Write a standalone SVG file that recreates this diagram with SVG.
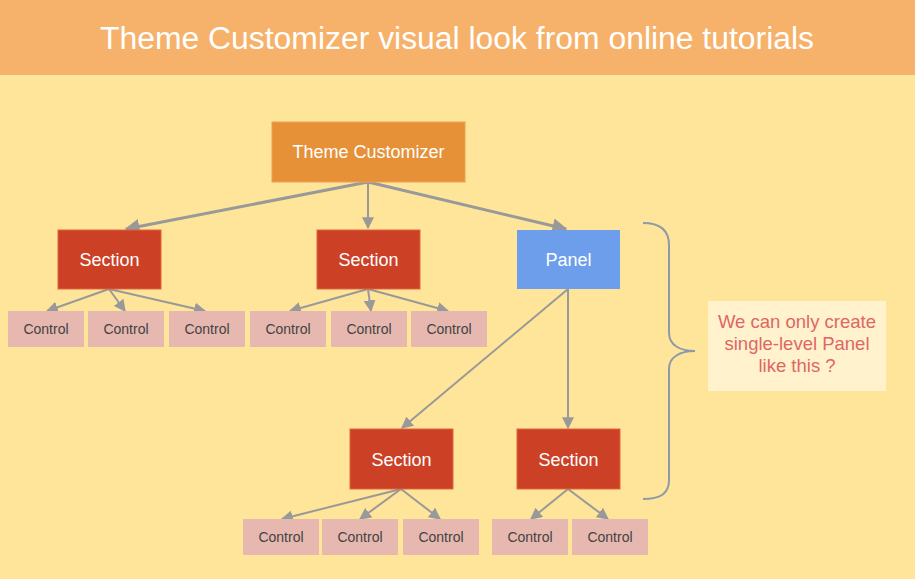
<svg xmlns="http://www.w3.org/2000/svg" width="915" height="579" viewBox="0 0 915 579">
<defs>
<style>
.t{font-family:"Liberation Sans",Arial,sans-serif;text-anchor:middle}
.sec{fill:#cc4125;stroke:#e0663f;stroke-width:1}
.ctl{fill:#e6b8af}
.lw{fill:#ffffff;font-size:18px}
.lc{fill:#434343;font-size:14px}
.ln{fill:#e06666;font-size:18.5px}
.c1{stroke:#999999;stroke-width:3;fill:none}
.c2{stroke:#999999;stroke-width:2;fill:none}
</style>
<marker id="ah" viewBox="0 0 10 10" refX="9" refY="5" markerWidth="5" markerHeight="5" orient="auto" markerUnits="strokeWidth"><path d="M0,0 L10,5 L0,10 z" fill="#999999"/></marker>
<marker id="ah2" viewBox="0 0 10 10" refX="9" refY="5" markerWidth="6" markerHeight="6" orient="auto" markerUnits="strokeWidth"><path d="M0,0 L10,5 L0,10 z" fill="#999999"/></marker>
</defs>
<rect x="0" y="0" width="915" height="579" fill="#ffe599"/>
<rect x="0" y="0" width="915" height="75" fill="#f6b26b"/>
<text class="t" x="457" y="49" font-size="31" fill="#ffffff" textLength="714" lengthAdjust="spacingAndGlyphs">Theme Customizer visual look from online tutorials</text>

<g id="connectors">
<line class="c1" x1="368" y1="182" x2="126" y2="229" marker-end="url(#ah)"/>
<line class="c2" x1="368" y1="182" x2="368" y2="228" marker-end="url(#ah2)"/>
<line class="c1" x1="368" y1="182" x2="566" y2="229" marker-end="url(#ah)"/>
<line class="c2" x1="109" y1="289" x2="47" y2="311" marker-end="url(#ah2)"/>
<line class="c2" x1="109" y1="289" x2="125" y2="311" marker-end="url(#ah2)"/>
<line class="c2" x1="109" y1="289" x2="205" y2="311" marker-end="url(#ah2)"/>
<line class="c2" x1="368" y1="289" x2="290" y2="311" marker-end="url(#ah2)"/>
<line class="c2" x1="368" y1="289" x2="371" y2="311" marker-end="url(#ah2)"/>
<line class="c2" x1="368" y1="289" x2="448" y2="311" marker-end="url(#ah2)"/>
<line class="c2" x1="568" y1="289" x2="402" y2="428" marker-end="url(#ah2)"/>
<line class="c2" x1="568" y1="289" x2="568" y2="428" marker-end="url(#ah2)"/>
<line class="c2" x1="401" y1="489" x2="282" y2="519" marker-end="url(#ah2)"/>
<line class="c2" x1="401" y1="489" x2="360" y2="519" marker-end="url(#ah2)"/>
<line class="c2" x1="401" y1="489" x2="440" y2="519" marker-end="url(#ah2)"/>
<line class="c2" x1="568" y1="489" x2="531" y2="519" marker-end="url(#ah2)"/>
<line class="c2" x1="568" y1="489" x2="608" y2="519" marker-end="url(#ah2)"/>
</g>

<g id="root"><rect x="272" y="122" width="193" height="60" fill="#e69138" stroke="#f0a050" stroke-width="1"/><text class="t lw" x="368.5" y="158">Theme Customizer</text></g>

<g id="section1"><rect class="sec" x="58" y="230" width="103" height="59"/><text class="t lw" x="109.5" y="266">Section</text></g>
<g id="section2"><rect class="sec" x="317" y="230" width="103" height="59"/><text class="t lw" x="368.5" y="266">Section</text></g>
<g id="panel"><rect x="517" y="230" width="103" height="59" fill="#6d9eeb"/><text class="t lw" x="568.5" y="266">Panel</text></g>

<g id="control1"><rect class="ctl" x="8" y="311" width="76" height="36"/><text class="t lc" x="46" y="334">Control</text></g>
<g id="control2"><rect class="ctl" x="88" y="311" width="76" height="36"/><text class="t lc" x="126" y="334">Control</text></g>
<g id="control3"><rect class="ctl" x="169" y="311" width="76" height="36"/><text class="t lc" x="207" y="334">Control</text></g>
<g id="control4"><rect class="ctl" x="250" y="311" width="76" height="36"/><text class="t lc" x="288" y="334">Control</text></g>
<g id="control5"><rect class="ctl" x="331" y="311" width="76" height="36"/><text class="t lc" x="369" y="334">Control</text></g>
<g id="control6"><rect class="ctl" x="411" y="311" width="76" height="36"/><text class="t lc" x="449" y="334">Control</text></g>

<g id="section3"><rect class="sec" x="350" y="429" width="103" height="60"/><text class="t lw" x="401.5" y="466">Section</text></g>
<g id="section4"><rect class="sec" x="517" y="429" width="103" height="60"/><text class="t lw" x="568.5" y="466">Section</text></g>

<g id="control7"><rect class="ctl" x="243" y="519" width="76" height="36"/><text class="t lc" x="281" y="542">Control</text></g>
<g id="control8"><rect class="ctl" x="322" y="519" width="76" height="36"/><text class="t lc" x="360" y="542">Control</text></g>
<g id="control9"><rect class="ctl" x="403" y="519" width="76" height="36"/><text class="t lc" x="441" y="542">Control</text></g>
<g id="control10"><rect class="ctl" x="492" y="519" width="76" height="36"/><text class="t lc" x="530" y="542">Control</text></g>
<g id="control11"><rect class="ctl" x="572" y="519" width="76" height="36"/><text class="t lc" x="610" y="542">Control</text></g>

<g id="brace"><path d="M643,223 C660,223 669,230 669,245 L669,333 C669,345 680,351 695,351 C680,351 669,357 669,369 L669,480 C669,494 660,499 643,499" fill="none" stroke="#8e9aa8" stroke-width="2"/></g>

<g id="note"><rect x="708" y="301" width="178" height="90" fill="#fff2cc"/>
<text class="t ln" x="797" y="328">We can only create</text>
<text class="t ln" x="797" y="350">single-level Panel</text>
<text class="t ln" x="797" y="372">like this ?</text></g>
</svg>
